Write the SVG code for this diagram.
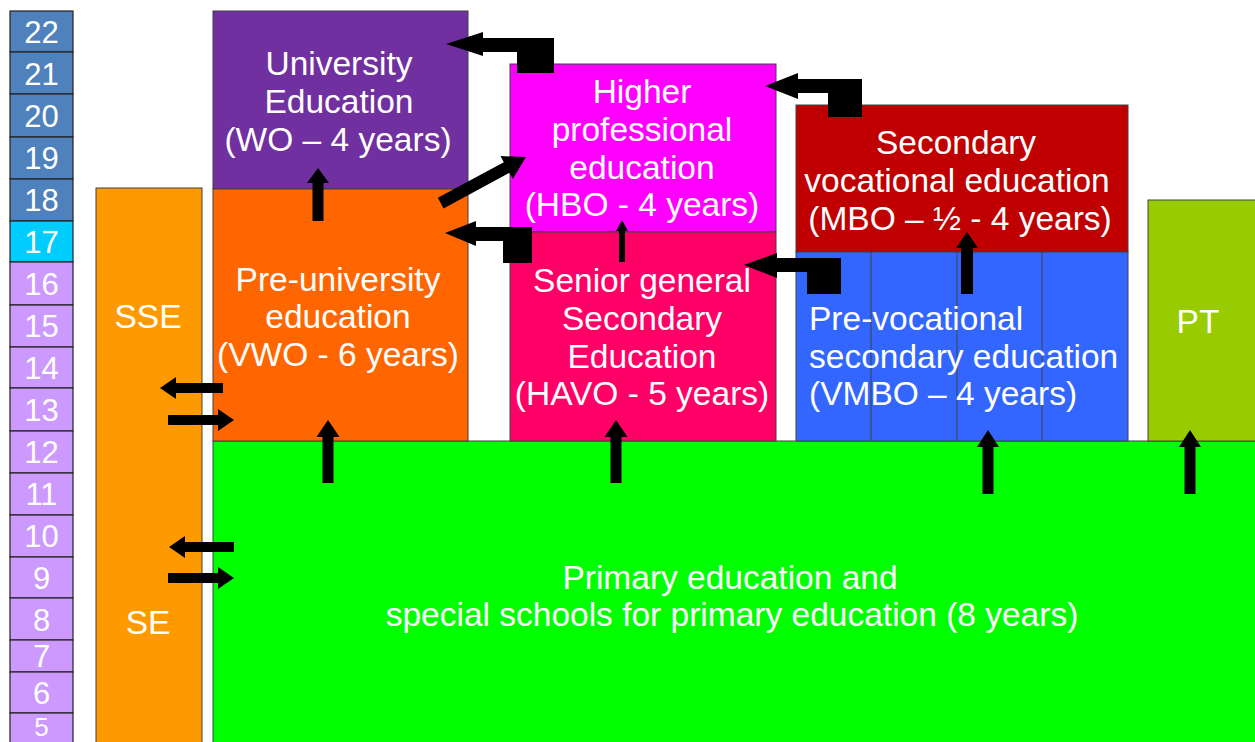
<svg xmlns="http://www.w3.org/2000/svg" width="1255" height="742" viewBox="0 0 1255 742">
<style>
.box{stroke:#404040;stroke-width:1}
.age{stroke:#222;stroke-width:1.2}
.t{font-family:"Liberation Sans",Arial,sans-serif;font-size:33.5px;fill:#fff;text-anchor:middle}
.tl{font-family:"Liberation Sans",Arial,sans-serif;font-size:33.5px;fill:#fff;text-anchor:start}
.n{font-family:"Liberation Sans",Arial,sans-serif;font-size:31px;fill:#fff;text-anchor:middle}
.arr{fill:#000}
</style>
<rect width="1255" height="742" fill="#fff"/>
<g id="ages">
<rect class="age" x="10" y="11" width="63" height="41" fill="#4F81BD"/><text class="n" x="41.5" y="43">22</text>
<rect class="age" x="10" y="52" width="63" height="42" fill="#4F81BD"/><text class="n" x="41.5" y="85">21</text>
<rect class="age" x="10" y="94" width="63" height="43" fill="#4F81BD"/><text class="n" x="41.5" y="127">20</text>
<rect class="age" x="10" y="137" width="63" height="42" fill="#4F81BD"/><text class="n" x="41.5" y="169">19</text>
<rect class="age" x="10" y="179" width="63" height="42" fill="#4F81BD"/><text class="n" x="41.5" y="211">18</text>
<rect class="age" x="10" y="221" width="63" height="41" fill="#00CCFF"/><text class="n" x="41.5" y="253">17</text>
<rect class="age" x="10" y="262" width="63" height="43" fill="#CC99FF"/><text class="n" x="41.5" y="295">16</text>
<rect class="age" x="10" y="305" width="63" height="42" fill="#CC99FF"/><text class="n" x="41.5" y="337">15</text>
<rect class="age" x="10" y="347" width="63" height="41" fill="#CC99FF"/><text class="n" x="41.5" y="379">14</text>
<rect class="age" x="10" y="388" width="63" height="43" fill="#CC99FF"/><text class="n" x="41.5" y="421">13</text>
<rect class="age" x="10" y="431" width="63" height="42" fill="#CC99FF"/><text class="n" x="41.5" y="463">12</text>
<rect class="age" x="10" y="473" width="63" height="42" fill="#CC99FF"/><text class="n" x="41.5" y="505">11</text>
<rect class="age" x="10" y="515" width="63" height="42" fill="#CC99FF"/><text class="n" x="41.5" y="547">10</text>
<rect class="age" x="10" y="557" width="63" height="41" fill="#CC99FF"/><text class="n" x="41.5" y="589">9</text>
<rect class="age" x="10" y="598" width="63" height="42" fill="#CC99FF"/><text class="n" x="41.5" y="631">8</text>
<rect class="age" x="10" y="640" width="63" height="32" fill="#CC99FF"/><text class="n" x="41.5" y="667">7</text>
<rect class="age" x="10" y="672" width="63" height="41" fill="#CC99FF"/><text class="n" x="41.5" y="704">6</text>
<rect class="age" x="10" y="713" width="63" height="40" fill="#CC99FF"/><text class="n" x="41.5" y="736" style="font-size:26px">5</text>
</g>
<g id="sse">
<rect class="box" x="96" y="188" width="106" height="560" fill="#FF9900"/>
<text class="t" x="148" y="328">SSE</text>
<text class="t" x="148" y="634">SE</text>
</g>
<g id="primary">
<rect class="box" x="213" y="441" width="1050" height="310" fill="#00FF00"/>
<text class="t" x="730" y="589">Primary education and</text>
<text class="t" x="732" y="626">special schools for primary education (8 years)</text>
</g>
<g id="wo">
<rect class="box" x="213" y="11" width="255" height="178" fill="#7030A0"/>
<text class="t" x="339" y="75">University</text>
<text class="t" x="339" y="113">Education</text>
<text class="t" x="338" y="151">(WO – 4 years)</text>
</g>
<g id="vwo">
<rect class="box" x="213" y="189" width="255" height="252" fill="#FF6600"/>
<text class="t" x="338" y="291">Pre-university</text>
<text class="t" x="338" y="328">education</text>
<text class="t" x="338" y="366">(VWO - 6 years)</text>
</g>
<g id="hbo">
<rect class="box" x="510" y="64" width="266" height="168" fill="#FF00FF"/>
<text class="t" x="642" y="103">Higher</text>
<text class="t" x="642" y="141">professional</text>
<text class="t" x="642" y="179">education</text>
<text class="t" x="642" y="216">(HBO - 4 years)</text>
</g>
<g id="havo">
<rect class="box" x="510" y="232" width="266" height="209" fill="#FF0066"/>
<text class="t" x="642" y="292">Senior general</text>
<text class="t" x="642" y="330">Secondary</text>
<text class="t" x="642" y="368">Education</text>
<text class="t" x="642" y="405">(HAVO - 5 years)</text>
</g>
<g id="mbo">
<rect class="box" x="796" y="105" width="332" height="147" fill="#C00000"/>
<text class="t" x="956" y="154">Secondary</text>
<text class="t" x="957" y="192">vocational education</text>
<text class="t" x="960" y="230">(MBO – ½ - 4 years)</text>
</g>
<g id="vmbo">
<rect class="box" x="796" y="252" width="332" height="189" fill="#3366FF"/>
<line class="box" x1="871" y1="252" x2="871" y2="441"/>
<line class="box" x1="957" y1="252" x2="957" y2="441"/>
<line class="box" x1="1042" y1="252" x2="1042" y2="441"/>
<text class="tl" x="809" y="330">Pre-vocational</text>
<text class="tl" x="809" y="368">secondary education</text>
<text class="tl" x="809" y="405">(VMBO – 4 years)</text>
</g>
<g id="pt">
<rect class="box" x="1148" y="200" width="115" height="241" fill="#99CC00"/>
<text class="t" x="1198" y="333">PT</text>
</g>
<g id="connectors">
<polygon class="arr" points="318,168 329,183 323.5,183 323.5,221 312.5,221 312.5,183 307,183"/>
<polygon class="arr" points="328,420 339.5,437 333.5,437 333.5,483 322.5,483 322.5,437 316.5,437"/>
<polygon class="arr" points="616,420 627.5,437 621.5,437 621.5,483 610.5,483 610.5,437 604.5,437"/>
<polygon class="arr" points="988,430 999,447 993.5,447 993.5,494 982.5,494 982.5,447 977,447"/>
<polygon class="arr" points="1190,430 1201,447 1195.5,447 1195.5,494 1184.5,494 1184.5,447 1179,447"/>
<polygon class="arr" points="967,232 978,248 973,248 973,294 961,294 961,248 956,248"/>
<polygon class="arr" points="622,220 628,231 625,231 625,262 619,262 619,231 616,231"/>
<polygon class="arr" transform="translate(526,157) rotate(61.6)" points="0,0 13,22 6,22 6,97 -6,97 -6,22 -13,22"/>
<polygon class="arr" points="160,388 176,377 176,383 223,383 223,393 176,393 176,399"/>
<polygon class="arr" points="234,420 218,409 218,415 168,415 168,425 218,425 218,431"/>
<polygon class="arr" points="169,547 185,536 185,542 234,542 234,552 185,552 185,558"/>
<polygon class="arr" points="234,578 218,567 218,573 168,573 168,583 218,583 218,589"/>
<polygon class="arr" points="446,44 483,32 483,38 554,38 554,73 517,73 517,52 483,52 483,56"/>
<polygon class="arr" points="765,86 798,73 798,79 862,79 862,117 828,117 828,93 798,93 798,99"/>
<polygon class="arr" points="445,233 476,221 476,227 532,227 532,263 503,263 503,241 476,241 476,246"/>
<polygon class="arr" points="744,265 777,253 777,258 841,258 841,294 807,294 807,272 777,272 777,278"/>
</g>
</svg>
